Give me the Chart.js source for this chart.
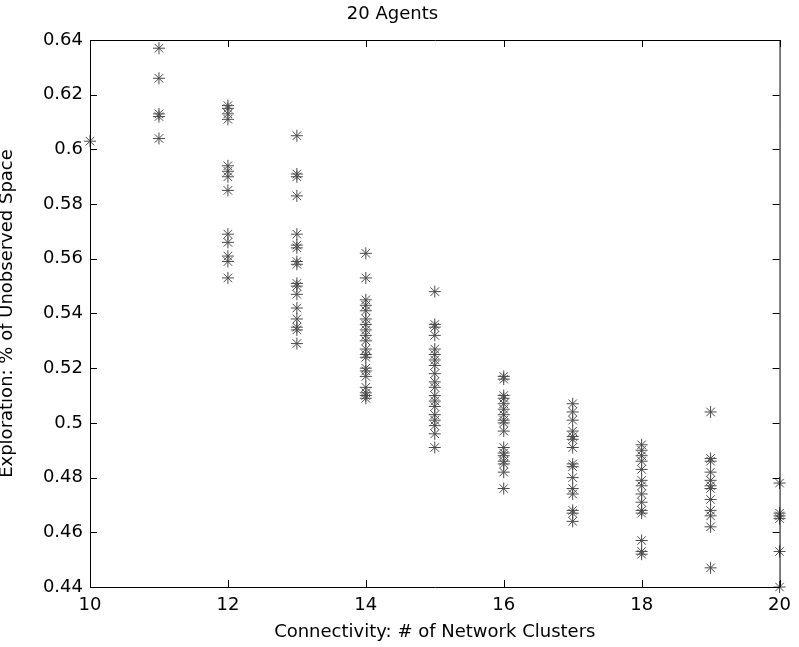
<!DOCTYPE html>
<html>
<head>
<meta charset="utf-8">
<script src="https://cdn.jsdelivr.net/npm/chart.js@4"></script>
<style>
  html, body { margin: 0; padding: 0; background: #fff; }
  #wrap { width: 799px; height: 647px; }
</style>
</head>
<body>
<div id="wrap"><canvas id="c" width="799" height="647"></canvas></div>
<script>
// number of network clusters on the x axis
const clusters = [10, 11, 12, 13, 14, 15, 16, 17, 18, 19, 20];

// exploration results per cluster count
const c10 = [0.603];
const c11 = [0.637, 0.626, 0.613, 0.612, 0.604];
const c12 = [0.616, 0.615, 0.613, 0.611, 0.594, 0.592, 0.590, 0.585, 0.569, 0.566, 0.561, 0.559, 0.553];
const c13 = [0.605, 0.591, 0.590, 0.583, 0.569, 0.565, 0.564, 0.559, 0.558, 0.551, 0.550, 0.547, 0.542, 0.538, 0.535, 0.534, 0.529];
const c14 = [0.562, 0.553, 0.545, 0.543, 0.541, 0.538, 0.536, 0.534, 0.532, 0.530, 0.527, 0.525, 0.524, 0.520, 0.519, 0.517, 0.513, 0.511, 0.510, 0.509];
const c15 = [0.548, 0.536, 0.535, 0.532, 0.527, 0.525, 0.523, 0.521, 0.518, 0.515, 0.513, 0.510, 0.508, 0.506, 0.503, 0.501, 0.499, 0.496, 0.491];
const c16 = [0.517, 0.516, 0.510, 0.509, 0.507, 0.505, 0.503, 0.501, 0.500, 0.497, 0.491, 0.489, 0.488, 0.486, 0.485, 0.482, 0.476];
const c17 = [0.507, 0.504, 0.501, 0.497, 0.495, 0.494, 0.491, 0.485, 0.484, 0.480, 0.476, 0.474, 0.468, 0.467, 0.464];
const c18 = [0.492, 0.490, 0.488, 0.486, 0.483, 0.479, 0.477, 0.474, 0.471, 0.468, 0.467, 0.457, 0.453, 0.452];
const c19 = [0.504, 0.487, 0.486, 0.482, 0.479, 0.477, 0.476, 0.472, 0.468, 0.466, 0.462, 0.447];
const c20 = [0.478, 0.467, 0.466, 0.465, 0.453, 0.440];

const xTicks = [10, 12, 14, 16, 18, 20];
const yTicks = [0.44, 0.46, 0.48, 0.5, 0.52, 0.54, 0.56, 0.58, 0.6, 0.62, 0.64];

const columns = [c10, c11, c12, c13, c14, c15, c16, c17, c18, c19, c20];
const points = [];
columns.forEach((vals, i) => vals.forEach(v => points.push({ x: clusters[i], y: v })));

const FONT = { family: '"DejaVu Sans", Verdana, sans-serif', size: 18 };
const INK = '#000';

// MATLAB style box with inward ticks on all four sides
const boxTicks = {
  id: 'boxTicks',
  afterDraw(chart) {
    const { ctx, chartArea: a, scales } = chart;
    const len = 7;
    ctx.save();
    ctx.strokeStyle = INK;
    ctx.lineWidth = 1;
    ctx.beginPath();
    ctx.rect(a.left + 0.5, a.top + 0.5, a.right - a.left, a.bottom - a.top);
    for (const t of xTicks) {
      const px = Math.round(scales.x.getPixelForValue(t)) + 0.5;
      ctx.moveTo(px, a.bottom); ctx.lineTo(px, a.bottom - len);
      ctx.moveTo(px, a.top); ctx.lineTo(px, a.top + len);
    }
    for (const t of yTicks) {
      const py = Math.round(scales.y.getPixelForValue(t)) + 0.5;
      ctx.moveTo(a.left, py); ctx.lineTo(a.left + len, py);
      ctx.moveTo(a.right, py); ctx.lineTo(a.right - len, py);
    }
    ctx.stroke();
    ctx.restore();
  }
};

new Chart(document.getElementById('c'), {
  type: 'scatter',
  data: {
    datasets: [{
      data: points,
      pointStyle: 'star',
      radius: 6,
      hoverRadius: 6,
      borderWidth: 1,
      borderColor: '#4a4a4a',
      backgroundColor: '#4a4a4a',
      clip: false
    }]
  },
  options: {
    responsive: false,
    animation: false,
    events: [],
    layout: { padding: { left: 0, right: 14, top: 0, bottom: 0 } },
    plugins: {
      legend: { display: false },
      tooltip: { enabled: false },
      title: {
        display: true,
        text: '20 Agents',
        color: INK,
        font: { ...FONT, weight: 'normal' },
        padding: { top: 4, bottom: 14.4 }
      }
    },
    scales: {
      x: {
        type: 'linear',
        min: 10, max: 20,
        afterBuildTicks: s => { s.ticks = xTicks.map(v => ({ value: v })); },
        afterFit: s => { s.height = 60; },
        grid: { display: false, drawTicks: false },
        border: { display: false },
        ticks: { color: INK, font: FONT, padding: 8, maxRotation: 0 },
        title: {
          display: true,
          text: 'Connectivity: # of Network Clusters',
          color: INK,
          font: FONT,
          padding: { top: 0, bottom: 4 }
        }
      },
      y: {
        type: 'linear',
        min: 0.44, max: 0.64,
        afterBuildTicks: s => { s.ticks = yTicks.map(v => ({ value: v })); },
        afterFit: s => { s.width = 90; },
        grid: { display: false, drawTicks: false },
        border: { display: false },
        ticks: { color: INK, font: FONT, padding: 7, callback: v => String(+v.toFixed(2)) },
        title: {
          display: true,
          text: 'Exploration: % of Unobserved Space',
          color: INK,
          font: FONT,
          padding: { top: -3, bottom: 0 }
        }
      }
    }
  },
  plugins: [boxTicks]
});
</script>
</body>
</html>
